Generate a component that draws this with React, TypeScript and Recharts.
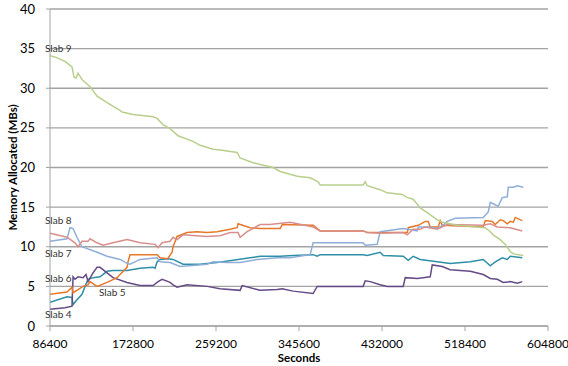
import React from 'react';
import { LineChart, Line, XAxis, YAxis, CartesianGrid } from 'recharts';

// [seconds, MB allocated]
const slab4: [number, number][] = [[86400,3.0],[104100,3.7],[109300,3.6],[110400,2.7],[114500,3.3],[119700,4.0],[122900,5.0],[126000,5.9],[131200,6.1],[138500,6.2],[145800,6.9],[152000,7.0],[166600,7.0],[180100,7.3],[193700,7.4],[195800,7.3],[197900,8.1],[201000,8.4],[208900,8.5],[214500,8.4],[224900,7.8],[242600,7.8],[260300,8.0],[277000,8.3],[294700,8.6],[305100,8.8],[326000,8.8],[339500,8.9],[360300,9.0],[364500,8.8],[367600,9.0],[412400,9.0],[416600,8.9],[430100,9.3],[433300,8.9],[454100,8.8],[459300,8.3],[464500,8.8],[471800,8.4],[489500,8.1],[503000,7.9],[523900,8.1],[537400,8.4],[544700,7.6],[549900,8.1],[557200,8.6],[562400,8.4],[565500,8.8],[578000,8.6]];
const slab5: [number, number][] = [[86400,2.1],[102000,2.3],[109300,2.5],[110400,6.2],[112400,5.9],[115600,6.2],[120800,6.1],[123900,6.5],[126000,5.6],[131200,6.7],[135400,7.4],[138500,7.4],[145800,6.7],[152000,6.1],[166600,5.5],[180100,5.1],[193700,5.1],[198900,5.6],[203100,5.9],[211400,5.5],[214500,5.2],[218700,4.9],[229100,5.2],[249900,5.0],[263500,4.7],[284300,4.5],[286400,5.1],[305100,4.5],[322800,4.6],[328100,4.7],[339500,4.4],[360300,4.1],[364500,5.0],[412400,5.0],[414500,5.7],[419700,5.6],[430100,5.2],[437400,5.0],[454100,5.0],[456200,6.1],[468700,6.0],[482200,6.2],[484300,7.7],[494700,7.5],[503000,7.1],[523900,6.9],[537400,6.5],[544700,6.0],[552000,5.9],[558200,5.5],[565500,5.6],[572800,5.4],[578000,5.6]];
const slab6: [number, number][] = [[86400,4.0],[104100,4.3],[109300,4.9],[110400,4.2],[115600,4.6],[120800,5.0],[126000,5.2],[128100,5.6],[135400,5.0],[145800,5.5],[156200,6.1],[159300,6.5],[166600,7.4],[167600,8.1],[169700,9.0],[180100,9.0],[197900,9.0],[201000,8.6],[208900,8.5],[213500,9.3],[214500,10.0],[218700,11.3],[229100,11.8],[239500,11.9],[249900,11.8],[260300,11.9],[273900,12.2],[281200,12.4],[282200,12.9],[294700,12.4],[305100,12.3],[326000,12.3],[328100,12.8],[360300,12.7],[367600,12.0],[412400,12.0],[416600,11.8],[430100,11.8],[458300,11.8],[459300,12.4],[469700,12.7],[477000,13.2],[480100,13.2],[482200,12.5],[490500,12.5],[492600,13.3],[494700,12.7],[537400,12.5],[539500,13.3],[546800,13.2],[549900,12.8],[555100,13.4],[558200,13.3],[562400,12.9],[565500,13.2],[568700,13.1],[570700,13.7],[578000,13.3]];
const slab7: [number, number][] = [[86400,10.7],[104100,11.0],[107200,12.4],[110400,12.3],[114500,11.2],[119700,10.0],[135400,9.3],[145800,8.8],[159300,8.4],[166600,7.9],[169700,7.8],[180100,8.4],[197900,8.6],[201000,8.1],[211400,8.0],[221800,7.5],[249900,7.8],[256200,8.1],[270800,8.0],[284300,8.0],[302000,8.4],[322800,8.6],[336400,8.6],[357200,9.0],[360300,10.5],[412400,10.5],[414500,10.2],[427000,10.3],[430100,11.9],[454100,12.3],[468700,12.0],[469700,12.5],[482200,12.5],[489500,12.3],[497800,12.9],[499900,13.2],[508200,13.6],[537400,13.7],[542600,14.4],[544700,15.6],[549900,15.3],[553000,15.1],[557200,16.2],[562400,16.3],[563500,17.5],[568700,17.5],[572800,17.7],[579100,17.5]];
const slab8: [number, number][] = [[86400,11.7],[104100,11.2],[112400,10.5],[115600,10.0],[119700,10.7],[126000,10.7],[128100,11.0],[135400,10.5],[141600,10.2],[152000,10.5],[166600,10.9],[180100,10.5],[195800,10.3],[198900,9.9],[203100,10.5],[211400,10.7],[214500,11.2],[218700,10.9],[224900,11.5],[249900,11.3],[263500,11.4],[273900,11.8],[282200,11.8],[284300,11.2],[291600,11.9],[305100,12.8],[315000,12.8],[336400,13.1],[360300,12.5],[367600,12.0],[412400,12.0],[416600,11.8],[430100,11.7],[454100,11.8],[458300,11.5],[464500,12.2],[471800,12.2],[477000,12.5],[489500,12.2],[499900,12.8],[537400,12.7],[544700,12.9],[552000,12.5],[565500,12.4],[578000,12.0]];
const slab9: [number, number][] = [[86400,34.1],[92700,33.9],[102000,33.4],[109300,32.7],[111400,31.4],[113500,31.3],[115600,31.9],[119700,31.1],[128100,30.2],[135400,29.0],[145800,28.2],[159300,27.2],[161400,27.0],[172900,26.7],[193700,26.4],[197900,26.2],[204100,25.4],[211400,24.9],[219700,24.0],[235300,23.3],[242600,22.8],[256200,22.3],[263500,22.2],[281200,21.9],[284300,21.2],[297800,20.6],[318700,20.0],[326000,19.5],[343700,18.9],[357200,18.7],[365500,18.2],[367600,17.8],[412400,17.8],[414500,18.2],[416600,17.7],[430100,17.2],[437400,16.8],[453000,16.6],[458300,16.2],[464500,16.0],[471800,14.9],[479100,14.3],[489500,13.4],[494700,13.1],[510300,12.7],[539500,12.4],[544700,11.9],[547800,11.5],[555100,10.9],[560300,10.3],[565500,9.4],[568700,9.1],[579100,8.9]];

const seriesNames = ['Slab 4', 'Slab 5', 'Slab 6', 'Slab 7', 'Slab 8', 'Slab 9'];
const xTicks = [86400, 172800, 259200, 345600, 432000, 518400, 604800];
const yTicks = [0, 5, 10, 15, 20, 25, 30, 35, 40];

const FONT = 'Lato, "Open Sans", sans-serif';

const seriesStyle = [
  { data: slab4, color: '#2f8fa6', dx: -5, dy: 16 },
  { data: slab5, color: '#654a86', dx: 49, dy: -13 },
  { data: slab6, color: '#e6782a', dx: -5, dy: -12 },
  { data: slab7, color: '#8eaed8', dx: -5, dy: 16 },
  { data: slab8, color: '#d88f8c', dx: -5, dy: -9 },
  { data: slab9, color: '#b8cf8c', dx: -5, dy: -3.5 },
];

const toRows = (arr: [number, number][]) => arr.map(([t, v]) => ({ t, v }));

const makeLabel = (name: string, dx: number, dy: number) => (props: any) => {
  if (props.index !== 0) return null;
  const x = props.x ?? props.viewBox?.x;
  const y = props.y ?? props.viewBox?.y;
  if (x == null || y == null) return null;
  return (
    <text x={x + dx} y={y + dy} fontSize={10} fontFamily={FONT} fill="#333">
      {name}
    </text>
  );
};

export default function App() {
  return (
    <div style={{ position: 'absolute', left: 0, top: 0, background: '#fff' }}>
      <LineChart width={568} height={366} margin={{ top: 9, right: 20, left: 0, bottom: 0 }}>
        <CartesianGrid horizontal vertical={false} stroke="#a3a3a3" strokeWidth={1.3} />
        <XAxis
          dataKey="t"
          type="number"
          domain={[86400, 604800]}
          ticks={xTicks}
          allowDataOverflow
          height={40}
          tickSize={5}
          tickMargin={8}
          stroke="#a3a3a3"
          tick={{ fill: '#000', fontSize: 12, fontFamily: FONT }}
          label={{
            content: (p: any) => {
              const vb = p.viewBox || {};
              return (
                <text x={vb.x + vb.width / 2} y={vb.y + vb.height - 4} textAnchor="middle" fontSize={11.5} fontWeight="bold" fontFamily={FONT} fill="#000">
                  Seconds
                </text>
              );
            },
          }}
        />
        <YAxis
          type="number"
          domain={[0, 40]}
          ticks={yTicks}
          width={50}
          tickSize={4}
          tickMargin={11}
          stroke="#a3a3a3"
          tick={{ fill: '#000', fontSize: 13, fontFamily: FONT }}
          label={{
            content: (p: any) => {
              const vb = p.viewBox || {};
              const cx = vb.x + 17;
              const cy = vb.y + vb.height / 2;
              return (
                <text x={cx} y={cy} transform={`rotate(-90 ${cx} ${cy})`} textAnchor="middle" fontSize={11.5} fontWeight="bold" fontFamily={FONT} fill="#000">
                  Memory Allocated (MBs)
                </text>
              );
            },
          }}
        />
        {seriesStyle.map((s, i) => (
          <Line
            key={seriesNames[i]}
            name={seriesNames[i]}
            data={toRows(s.data)}
            dataKey="v"
            type="linear"
            stroke={s.color}
            strokeWidth={1.5}
            dot={false}
            isAnimationActive={false}
            label={makeLabel(seriesNames[i], s.dx, s.dy)}
          />
        ))}
      </LineChart>
    </div>
  );
}
